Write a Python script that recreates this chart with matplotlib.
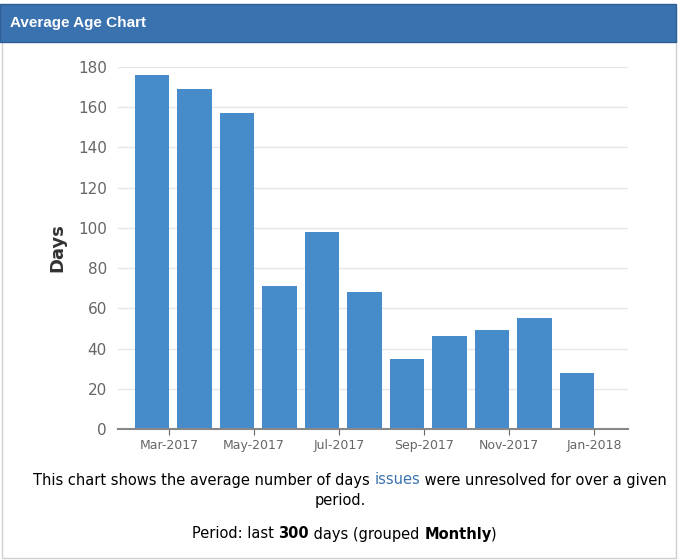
import matplotlib
matplotlib.use('Agg')
import matplotlib.pyplot as plt
from matplotlib.patches import Rectangle

months = ['Mar-2017', 'Apr-2017', 'May-2017', 'Jun-2017', 'Jul-2017', 'Aug-2017',
          'Sep-2017', 'Oct-2017', 'Nov-2017', 'Dec-2017', 'Jan-2018']
days = [176, 169, 157, 71, 98, 68, 35, 46, 49, 55, 28]

fig = plt.figure(figsize=(6.8, 5.6), dpi=100)
fig.patch.set_facecolor('white')

# panel border and header
fig.add_artist(Rectangle((2/680, 2/560), 674/680, 548/560, transform=fig.transFigure,
                         fill=False, edgecolor='#cfcfcf', lw=1))
fig.add_artist(Rectangle((0, 1 - 42/560), 676/680, 38/560, transform=fig.transFigure,
                         facecolor='#3a72b0', edgecolor='#2f5f95', lw=1))
fig.text(10/680, 1 - 23/560, 'Average Age Chart', color='white', fontsize=11,
         fontweight='bold', va='center', family='Liberation Sans')

ax = fig.add_axes([118/680, 1 - 429/560, 510/680, 362/560])
x = list(range(len(days)))
ax.bar(x, days, width=0.82, color='#468ccb')
ax.set_xlim(-0.8, 11.2)
ax.set_ylim(0, 180)
ax.set_yticks(range(0, 181, 20))
ax.set_xticks([i + 0.4 for i in range(0, 11, 2)])
ax.set_xticklabels(months[::2])
ax.tick_params(axis='y', length=0, labelsize=11, colors='#666666', pad=8)
ax.tick_params(axis='x', length=4, labelsize=9, colors='#666666', direction='out')
ax.grid(axis='y', color='#e6e6e6', lw=1)
ax.set_axisbelow(True)
for s in ['top', 'right', 'left']:
    ax.spines[s].set_visible(False)
ax.spines['bottom'].set_color('#888888')
ax.spines['bottom'].set_linewidth(1.5)
ax.set_ylabel('Days', fontsize=13, fontweight='bold', color='#333333', labelpad=8)

# caption
fs = 10.5
t1 = fig.text(33/680, 1 - 480/560, 'This chart shows the average number of days ',
              fontsize=fs, va='center')
t2 = ax.annotate('issues', xy=(1, 0), xycoords=t1, va='bottom', fontsize=fs, color='#3b73af')
ax.annotate(' were unresolved for over a given', xy=(1, 0), xycoords=t2, va='bottom', fontsize=fs)
fig.text(0.5, 1 - 500/560, 'period.', fontsize=fs, ha='center', va='center')
p1 = fig.text(192/680, 1 - 534/560, 'Period: last ', fontsize=fs, va='center')
p2 = ax.annotate('300', xy=(1, 0), xycoords=p1, va='bottom', fontsize=fs, fontweight='bold')
p3 = ax.annotate(' days (grouped ', xy=(1, 0), xycoords=p2, va='bottom', fontsize=fs)
p4 = ax.annotate('Monthly', xy=(1, 0), xycoords=p3, va='bottom', fontsize=fs, fontweight='bold')
ax.annotate(')', xy=(1, 0), xycoords=p4, va='bottom', fontsize=fs)

fig.savefig('out.png', dpi=100)
